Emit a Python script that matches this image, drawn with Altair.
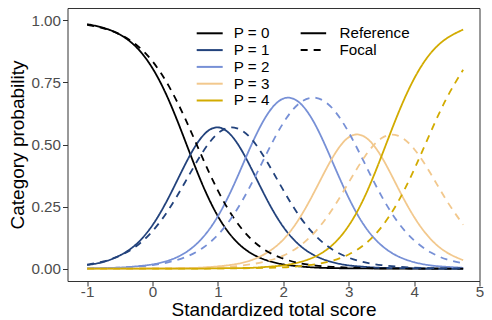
import altair as alt
import pandas as pd

x_vals = [-1.0, -0.75, -0.5, -0.25, 0.0, 0.25, 0.5, 0.75, 1.0, 1.25, 1.5, 1.75,
          2.0, 2.25, 2.5, 2.75, 3.0, 3.25, 3.5, 3.75, 4.0, 4.25, 4.5, 4.75]

categories = ["P = 0", "P = 1", "P = 2", "P = 3", "P = 4"]
groups = ["Reference", "Focal"]
colors = ["#000000", "#22427C", "#7790D6", "#F2C88D", "#D2AB00"]

ref_p0 = [0.985, 0.970, 0.943, 0.893, 0.807, 0.678, 0.514, 0.347, 0.211, 0.118, 0.063, 0.033,
          0.017, 0.009, 0.004, 0.002, 0.001, 0.001, 0.000, 0.000, 0.000, 0.000, 0.000, 0.000]
ref_p1 = [0.014, 0.027, 0.053, 0.098, 0.175, 0.288, 0.420, 0.529, 0.569, 0.522, 0.409, 0.278,
          0.168, 0.094, 0.050, 0.026, 0.013, 0.007, 0.003, 0.002, 0.001, 0.000, 0.000, 0.000]
ref_p2 = [0.001, 0.002, 0.004, 0.009, 0.017, 0.033, 0.064, 0.120, 0.211, 0.341, 0.491, 0.619,
          0.685, 0.668, 0.574, 0.431, 0.285, 0.169, 0.094, 0.050, 0.026, 0.013, 0.007, 0.003]
ref_p3 = [0.000, 0.000, 0.000, 0.000, 0.001, 0.001, 0.002, 0.004, 0.009, 0.017, 0.033, 0.064,
          0.117, 0.204, 0.322, 0.446, 0.529, 0.530, 0.451, 0.327, 0.208, 0.120, 0.065, 0.034]
ref_p4 = [0.000, 0.000, 0.000, 0.000, 0.000, 0.000, 0.000, 0.000, 0.001, 0.002, 0.003, 0.007,
          0.013, 0.026, 0.050, 0.095, 0.173, 0.293, 0.452, 0.621, 0.765, 0.867, 0.928, 0.963]

foc_p0 = [0.982, 0.968, 0.944, 0.902, 0.835, 0.735, 0.604, 0.455, 0.314, 0.201, 0.121, 0.070,
          0.040, 0.022, 0.012, 0.007, 0.004, 0.002, 0.001, 0.001, 0.000, 0.000, 0.000, 0.000]
foc_p1 = [0.016, 0.029, 0.052, 0.090, 0.151, 0.239, 0.349, 0.462, 0.545, 0.568, 0.526, 0.431,
          0.316, 0.210, 0.130, 0.077, 0.044, 0.025, 0.014, 0.008, 0.004, 0.002, 0.001, 0.001]
foc_p2 = [0.001, 0.002, 0.004, 0.008, 0.014, 0.026, 0.046, 0.080, 0.136, 0.221, 0.335, 0.466,
          0.587, 0.667, 0.688, 0.646, 0.549, 0.421, 0.293, 0.188, 0.114, 0.066, 0.037, 0.021]
foc_p3 = [0.000, 0.000, 0.000, 0.000, 0.001, 0.001, 0.002, 0.003, 0.005, 0.009, 0.017, 0.030,
          0.052, 0.091, 0.152, 0.239, 0.347, 0.453, 0.525, 0.536, 0.482, 0.384, 0.273, 0.177]
foc_p4 = [0.000, 0.000, 0.000, 0.000, 0.000, 0.000, 0.000, 0.000, 0.001, 0.001, 0.002, 0.003,
          0.005, 0.010, 0.018, 0.032, 0.057, 0.099, 0.167, 0.267, 0.399, 0.548, 0.688, 0.801]

series = {
    "Reference": [ref_p0, ref_p1, ref_p2, ref_p3, ref_p4],
    "Focal": [foc_p0, foc_p1, foc_p2, foc_p3, foc_p4],
}

rows = []
for g in groups:
    for cat, vals in zip(categories, series[g]):
        for xv, pv in zip(x_vals, vals):
            rows.append({"x": xv, "p": pv, "cat": cat, "group": g})
df = pd.DataFrame(rows)

FONT = "Liberation Sans"

chart = alt.Chart(df).mark_line(
    strokeWidth=1.8, interpolate="natural", color="black"
).encode(
    x=alt.X(
        "x:Q",
        scale=alt.Scale(domain=[-1.3, 5.0], nice=False, zero=False),
        axis=alt.Axis(
            values=[-1, 0, 1, 2, 3, 4, 5],
            labelExpr="'' + datum.value",
            title="Standardized total score",
            labelFlush=False,
            labelPadding=-2,
            titlePadding=1,
        ),
    ),
    y=alt.Y(
        "p:Q",
        scale=alt.Scale(domain=[-0.05, 1.05], nice=False, zero=False),
        axis=alt.Axis(
            values=[0, 0.25, 0.5, 0.75, 1.0],
            format=".2f",
            title="Category probability",
            labelPadding=2,
            titlePadding=3,
        ),
    ),
    color=alt.Color(
        "cat:N",
        scale=alt.Scale(domain=categories, range=colors),
        legend=alt.Legend(
            title=None,
            orient="none",
            legendX=134.6,
            legendY=17.7,
            symbolType="M-2.6,0H2.6",
            symbolSize=100,
            symbolStrokeWidth=2,
            labelOffset=16.5,
            rowPadding=0.8,
            padding=0,
            labelFontSize=15.2,
            labelFont=FONT,
            labelColor="black",
        ),
    ),
    strokeDash=alt.StrokeDash(
        "group:N",
        scale=alt.Scale(domain=groups, range=[[1, 0], [7, 6]]),
        legend=alt.Legend(
            title=None,
            orient="none",
            legendX=238.3,
            legendY=17.7,
            symbolType="M-2.55,0H2.55",
            symbolSize=100,
            symbolStrokeWidth=2,
            symbolStrokeColor="black",
            labelOffset=18.5,
            rowPadding=0.8,
            padding=0,
            labelFontSize=15.2,
            labelFont=FONT,
            labelColor="black",
        ),
    ),
).properties(
    width=412,
    height=273,
    autosize=alt.AutoSizeParams(type="none"),
    padding={"left": 59.5, "top": 0, "right": 4.5, "bottom": 39},
).configure_view(
    stroke="#333333", strokeWidth=1
).configure_axis(
    grid=False,
    domain=False,
    ticks=True,
    tickColor="#333333",
    tickSize=5,
    tickWidth=1,
    labelFont=FONT,
    labelFontSize=15.2,
    labelColor="#4D4D4D",
    titleFont=FONT,
    titleFontSize=19,
    titleFontWeight="normal",
    titleColor="black",
)

chart.save("out.html", embed_options={"renderer": "svg", "actions": False})
